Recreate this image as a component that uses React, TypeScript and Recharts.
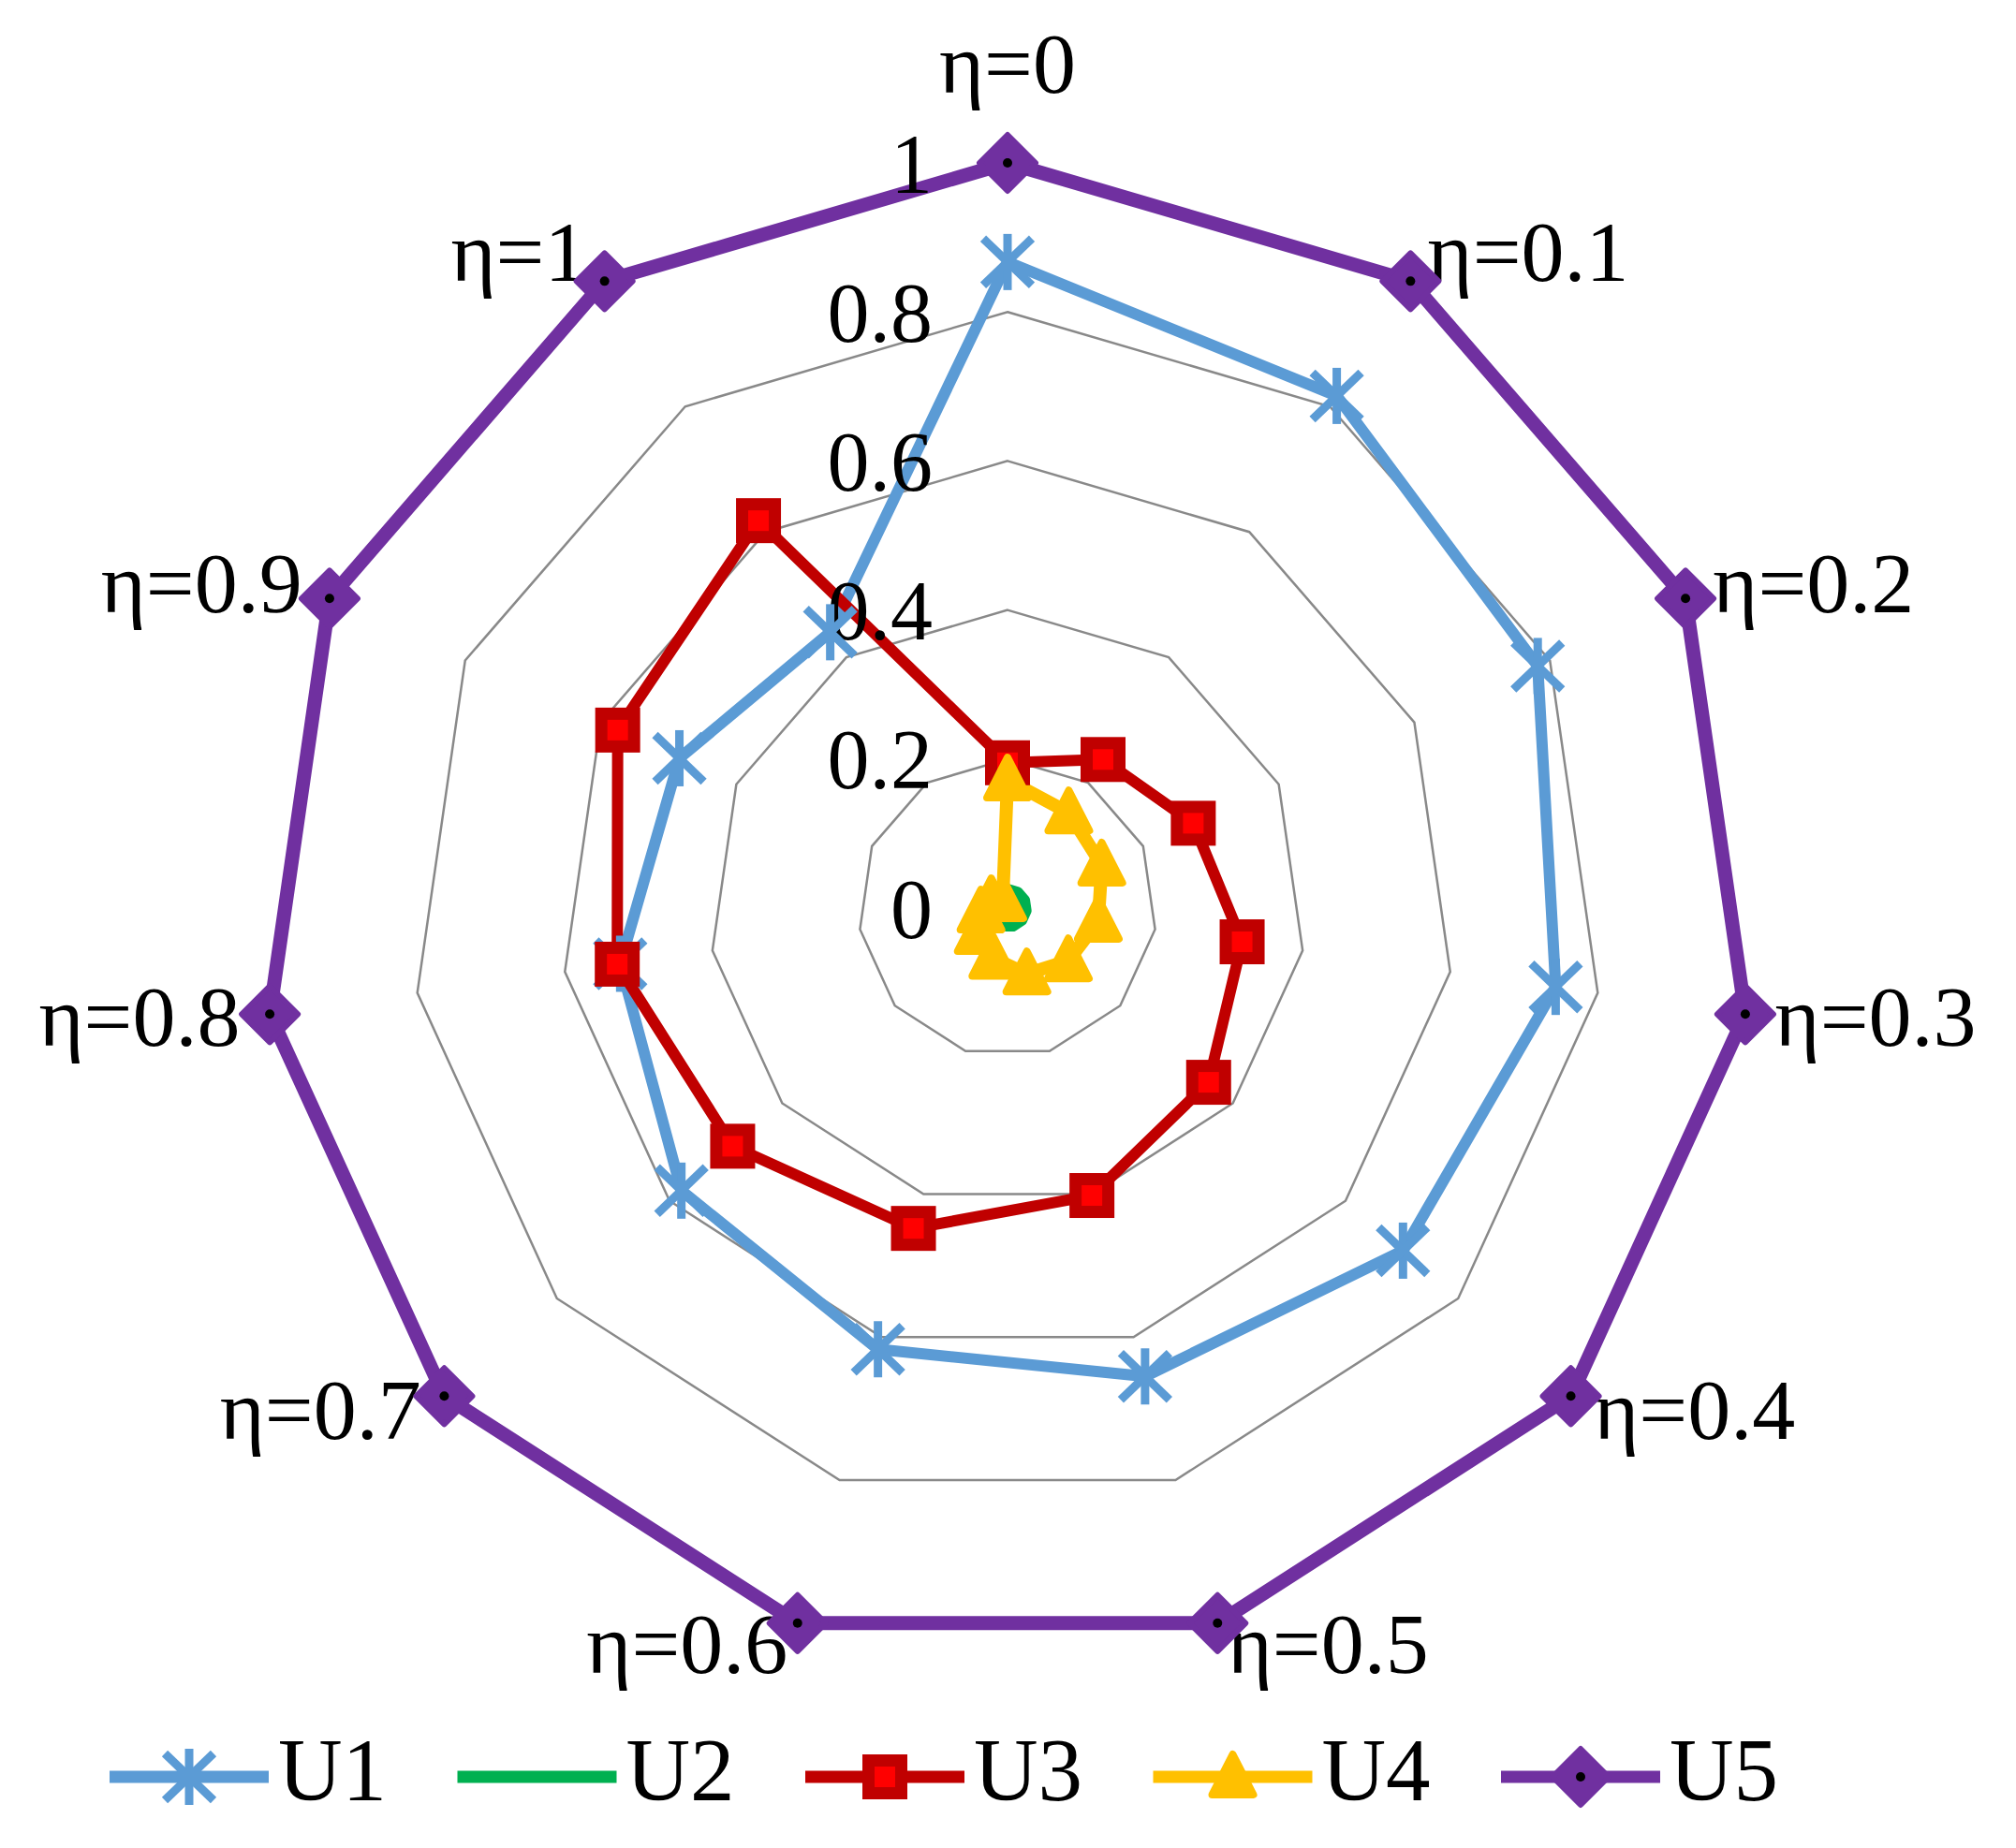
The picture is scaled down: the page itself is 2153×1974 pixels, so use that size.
import React from 'react';
import { RadarChart, Radar, PolarGrid, PolarAngleAxis, PolarRadiusAxis, Legend } from 'recharts';

// ---- data ----
const categories = ['η=0', 'η=0.1', 'η=0.2', 'η=0.3', 'η=0.4', 'η=0.5', 'η=0.6', 'η=0.7', 'η=0.8', 'η=0.9', 'η=1'];
const u1 = [0.867, 0.817, 0.782, 0.743, 0.702, 0.655, 0.617, 0.579, 0.525, 0.484, 0.44];
const u2 = [0.025, 0.025, 0.025, 0.025, 0.025, 0.025, 0.025, 0.025, 0.025, 0.025, 0.025];
const u3 = [0.195, 0.237, 0.274, 0.318, 0.357, 0.402, 0.448, 0.488, 0.529, 0.575, 0.618];
const u4 = [0.172, 0.152, 0.139, 0.123, 0.108, 0.092, 0.07, 0.052, 0.036, 0.024, 0.012];
const u5 = [1, 1, 1, 1, 1, 1, 1, 1, 1, 1, 1];
const seriesNames = ['U1', 'U2', 'U3', 'U4', 'U5'];
const radiusDomain = [0, 1];
const radiusTickCount = 6;

const data = categories.map((name, i) => ({
  name,
  U1: u1[i],
  U2: u2[i],
  U3: u3[i],
  U4: u4[i],
  U5: u5[i],
}));

const FONT = '"Liberation Serif", "Times New Roman", serif';
const COLORS: Record<string, string> = {
  U1: '#5B9BD5',
  U2: '#00B050',
  U3: '#C00000',
  U4: '#FFC000',
  U5: '#7030A0',
};
const WIDTHS: Record<string, number> = { U1: 12, U2: 12, U3: 12, U4: 14, U5: 15 };

// ---- markers ----
function marker(name: string, cx: number, cy: number, key?: string) {
  if (name === 'U1') {
    return (
      <g key={key}>
        <line x1={cx} y1={cy - 30} x2={cx} y2={cy + 30} stroke={COLORS.U1} strokeWidth={9} />
        <line x1={cx - 26} y1={cy - 25} x2={cx + 26} y2={cy + 25} stroke={COLORS.U1} strokeWidth={9} />
        <line x1={cx - 26} y1={cy + 25} x2={cx + 26} y2={cy - 25} stroke={COLORS.U1} strokeWidth={9} />
      </g>
    );
  }
  if (name === 'U3') {
    return (
      <rect key={key} x={cx - 17.5} y={cy - 17.5} width={35} height={35} fill="#FF0000" stroke="#C00000" strokeWidth={13} />
    );
  }
  if (name === 'U4') {
    return (
      <polygon
        key={key}
        points={`${cx},${cy - 24} ${cx + 22},${cy + 19} ${cx - 22},${cy + 19}`}
        fill={COLORS.U4}
        stroke={COLORS.U4}
        strokeWidth={8}
        strokeLinejoin="round"
      />
    );
  }
  if (name === 'U5') {
    return (
      <g key={key}>
        <polygon
          points={`${cx},${cy - 30} ${cx + 30},${cy} ${cx},${cy + 30} ${cx - 30},${cy}`}
          fill={COLORS.U5}
          stroke={COLORS.U5}
          strokeWidth={6}
          strokeLinejoin="round"
        />
        <circle cx={cx} cy={cy} r={5} fill="#000" />
      </g>
    );
  }
  return <g key={key} />;
}

const makeDot = (name: string) => (props: any) => marker(name, props.cx, props.cy, `dot-${name}-${props.index}`);

// ---- ticks ----
const AngleTick = (props: any) => {
  const { x, y, payload } = props;
  const a = (payload.coordinate * Math.PI) / 180;
  const dx = Math.cos(a);
  const dy = -Math.sin(a);
  const vx = x - 8 * dx;
  const vy = y - 8 * dy;
  let anchor: 'start' | 'middle' | 'end' = 'middle';
  let tx = vx;
  let ty = vy - 75;
  if (Math.abs(dx) >= 0.1) {
    anchor = dx > 0 ? 'start' : 'end';
    tx = vx + 30 * dx + (dx > 0 ? 2 : -2);
    ty = vy + 30 + dy * (dy < 0 ? 36 : 24);
  }
  return (
    <text x={tx} y={ty} textAnchor={anchor} fontFamily={FONT} fontSize={92} fill="#000">
      {payload.value}
    </text>
  );
};

const RadiusTick = (props: any) => {
  const { x, y, payload } = props;
  const v = Number(Number(payload.value).toFixed(2));
  return (
    <text x={x - 80} y={y} dy="0.35em" textAnchor="end" fontFamily={FONT} fontSize={90} fill="#000">
      {String(v)}
    </text>
  );
};

// ---- legend ----
const LegendContent = () => (
  <svg width={2153} height={140}>
    {seriesNames.map((s, i) => {
      const x0 = 117 + i * 371.5;
      const yc = 68;
      return (
        <g key={s}>
          <line x1={x0} x2={x0 + 170} y1={yc} y2={yc} stroke={COLORS[s]} strokeWidth={13} />
          {marker(s, x0 + 85, yc)}
          <text x={x0 + 180} y={yc + 25} fontFamily={FONT} fontSize={95} fill="#000">
            {s}
          </text>
        </g>
      );
    })}
  </svg>
);

export default function App() {
  return (
    <div style={{ position: 'absolute', left: 0, top: 0, width: 2153, height: 1974, background: '#fff' }}>
      <RadarChart
        width={2153}
        height={1974}
        data={data}
        cx={1076}
        cy={970}
        outerRadius={796}
        margin={{ top: 0, right: 0, bottom: 0, left: 0 }}
      >
        <PolarGrid gridType="polygon" radialLines={false} stroke="#898989" strokeWidth={2.5} />
        <PolarAngleAxis dataKey="name" tick={AngleTick} tickLine={false} axisLine={false} />
        <PolarRadiusAxis
          angle={90}
          domain={radiusDomain as [number, number]}
          tickCount={radiusTickCount}
          allowDecimals={true}
          type="number"
          axisLine={false}
          tickLine={false}
          tick={RadiusTick}
        />
        {seriesNames.map((s) => (
          <Radar
            key={s}
            name={s}
            dataKey={s}
            stroke={COLORS[s]}
            strokeWidth={WIDTHS[s]}
            strokeLinejoin="round"
            fill="none"
            fillOpacity={0}
            dot={s === 'U2' ? false : makeDot(s)}
            isAnimationActive={false}
          />
        ))}
        <Legend
          content={LegendContent}
          wrapperStyle={{ position: 'absolute', left: 0, top: 1830, width: 2153, height: 140 }}
        />
      </RadarChart>
    </div>
  );
}
